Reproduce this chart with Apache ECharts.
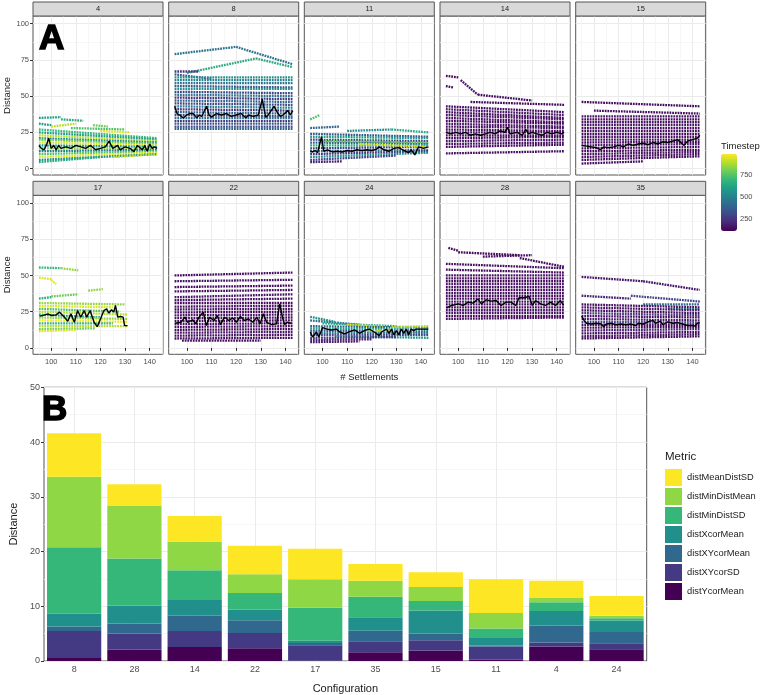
<!DOCTYPE html>
<html>
<head>
<meta charset="utf-8">
<script src="https://cdn.jsdelivr.net/npm/echarts@6/dist/echarts.min.js"></script>
<style>
  html, body { margin: 0; padding: 0; background: #fff; }
  #chart { width: 762px; height: 695px; }
</style>
</head>
<body>
<div id="chart"></div>
<script>
// ---- panel A: one facet per configuration ----
const facetNames = ['4', '8', '11', '14', '15', '17', '22', '24', '28', '35'];

// settlement tracks: [timestep, xStart, yStart, xEnd, yEnd]
const tracks4 = [
  [600, 95, 35, 104, 35.5], [650, 104, 34, 113, 33], [800, 117, 30, 123, 29],
  [600, 95, 31, 100, 30], [900, 100, 29, 110, 31], [750, 108, 28, 130, 27],
  [950, 120, 26, 132, 25], [700, 95, 27, 143, 21], [600, 95, 25, 143, 20],
  [900, 95, 23, 143, 19], [550, 95, 21, 143, 18], [800, 95, 20, 143, 17],
  [950, 95, 18, 143, 16], [600, 95, 16, 143, 15], [850, 95, 14, 143, 14],
  [500, 95, 12, 143, 13], [750, 95, 10, 143, 12], [950, 95, 8, 143, 11],
  [550, 95, 6, 143, 10], [650, 95, 4.5, 120, 8], [900, 125, 8, 143, 10]
];
const tracks8 = [
  [450, 95, 79, 120, 84], [450, 120, 84, 143, 72], [650, 100, 66, 128, 76],
  [650, 128, 76, 143, 70], [250, 95, 67, 105, 67], [350, 95, 65, 110, 62],
  [550, 95, 63, 143, 63], [500, 95, 61, 143, 61], [450, 95, 59, 143, 59],
  [350, 95, 57, 143, 56], [550, 95, 55, 143, 55], [300, 95, 53, 143, 52],
  [450, 95, 51, 143, 50], [250, 95, 49, 143, 48], [400, 95, 47, 143, 46],
  [300, 95, 45, 143, 44], [500, 95, 43, 143, 42], [250, 95, 41, 143, 40],
  [400, 95, 39, 143, 38], [300, 95, 37, 143, 36], [450, 95, 35, 143, 35],
  [250, 95, 33, 143, 33], [350, 95, 31, 143, 31], [300, 95, 29, 143, 29],
  [400, 95, 27.5, 143, 27.5]
];
const tracks11 = [
  [750, 95, 34, 99, 37], [400, 95, 28, 107, 29], [550, 110, 26, 128, 27],
  [650, 128, 27, 143, 25], [350, 95, 24, 143, 22], [600, 95, 22, 143, 21],
  [300, 95, 20, 143, 19], [800, 100, 19, 143, 18], [400, 95, 18, 143, 17],
  [650, 95, 16, 143, 16], [300, 95, 14, 143, 15], [950, 115, 17, 143, 15],
  [450, 95, 12, 143, 13], [250, 95, 10, 143, 12], [550, 95, 8, 143, 11],
  [300, 95, 6, 130, 9], [200, 95, 4.5, 108, 5]
];
const tracks14 = [
  [150, 95, 64, 100, 63], [150, 95, 57, 98, 56], [170, 101, 61, 108, 51],
  [150, 108, 51, 130, 47], [140, 105, 46, 143, 44], [150, 95, 43, 143, 39],
  [170, 95, 41, 143, 37], [140, 95, 39, 143, 35], [160, 95, 37, 143, 34],
  [150, 95, 35, 143, 32], [130, 95, 33, 143, 31], [170, 95, 31, 143, 29],
  [150, 95, 29, 143, 28], [140, 95, 27, 143, 26], [160, 95, 25, 143, 25],
  [150, 95, 23, 143, 23], [130, 95, 21, 143, 22], [170, 95, 19, 143, 20],
  [150, 95, 17, 143, 18], [140, 95, 15, 143, 16.5], [150, 95, 10.5, 143, 12]
];
const tracks15 = [
  [140, 95, 46, 143, 43], [150, 100, 40, 143, 38], [160, 95, 36, 143, 36],
  [130, 95, 34, 143, 34], [150, 95, 32, 143, 32], [170, 95, 30, 143, 30],
  [140, 95, 28, 143, 28], [150, 95, 26, 143, 26], [130, 95, 24, 143, 24],
  [160, 95, 22, 143, 22], [150, 95, 20, 143, 20], [140, 95, 18, 143, 18.5],
  [170, 95, 16, 143, 17], [150, 95, 14, 143, 15], [130, 95, 12, 143, 13],
  [160, 95, 10, 143, 11.5], [150, 95, 8, 143, 10], [140, 95, 6, 143, 8.5],
  [150, 95, 3.5, 120, 5]
];
const tracks17 = [
  [700, 95, 55.5, 104, 55], [850, 104, 55, 111, 53.5], [950, 95, 48.5, 100, 47.5],
  [950, 100, 47, 102, 44], [850, 115, 39.5, 121, 40.5], [650, 95, 34, 100, 35],
  [800, 100, 35.5, 111, 37], [850, 95, 31, 130, 30], [950, 95, 29, 125, 28],
  [750, 95, 27, 128, 25], [900, 95, 25, 131, 23], [600, 95, 23, 120, 21],
  [850, 95, 21, 131, 20], [980, 95, 19, 131, 18], [700, 95, 17, 125, 17],
  [900, 95, 15, 131, 15], [800, 95, 13, 118, 13.5], [950, 95, 11.5, 110, 12.5]
];
const tracks22 = [
  [150, 95, 50, 143, 52], [160, 95, 46, 143, 47], [140, 95, 42, 143, 43],
  [150, 95, 39, 143, 40], [170, 95, 35, 143, 37], [150, 95, 33, 143, 34],
  [140, 95, 31, 143, 31], [160, 95, 28.5, 143, 29], [150, 95, 26.5, 143, 27],
  [130, 95, 24.5, 143, 25], [170, 95, 22.5, 143, 23], [150, 95, 20.5, 143, 21],
  [140, 95, 18.5, 143, 19], [160, 95, 16.5, 143, 17], [150, 95, 14.5, 143, 15],
  [130, 95, 12.5, 143, 13], [170, 95, 10.5, 143, 11], [150, 95, 8.5, 143, 9],
  [140, 95, 6.5, 143, 7], [150, 98, 5, 130, 5]
];
const tracks24 = [
  [550, 95, 21.5, 105, 18], [450, 95, 19, 115, 16], [650, 100, 17, 130, 15],
  [950, 110, 16, 125, 14.5], [400, 95, 15, 143, 14], [900, 128, 14.5, 143, 15],
  [600, 95, 13.5, 143, 12.5], [350, 95, 12, 143, 11], [500, 95, 10.5, 143, 10],
  [300, 95, 9, 143, 9], [550, 105, 8, 143, 7], [250, 95, 7, 130, 7.5],
  [200, 95, 5.5, 120, 6], [180, 95, 4, 115, 4.5], [900, 118, 12, 128, 12]
];
const tracks28 = [
  [150, 96, 69, 100, 67], [140, 100, 66, 125, 64], [160, 110, 63, 130, 64],
  [150, 125, 62, 143, 56], [150, 95, 58, 143, 55], [140, 95, 54, 143, 52],
  [160, 95, 50, 143, 50], [150, 95, 48, 143, 48], [130, 95, 46, 143, 46],
  [170, 95, 44, 143, 44], [150, 95, 42, 143, 42], [140, 95, 40, 143, 40],
  [160, 95, 38, 143, 38], [150, 95, 36, 143, 36], [130, 95, 34, 143, 34],
  [170, 95, 32, 143, 32], [150, 95, 30, 143, 30], [140, 95, 28, 143, 28],
  [160, 95, 26, 143, 26], [150, 95, 24, 143, 24], [130, 95, 22, 143, 22],
  [150, 95, 20, 143, 21]
];
const tracks35 = [
  [170, 95, 49, 120, 46], [170, 120, 46, 143, 40], [200, 95, 36, 115, 34],
  [300, 115, 36, 143, 32], [400, 120, 30, 143, 30], [550, 130, 27, 143, 27],
  [150, 95, 30, 143, 28], [160, 95, 28, 143, 26], [140, 95, 26, 143, 24],
  [250, 95, 24, 143, 22.5], [150, 95, 22, 143, 21], [170, 95, 20, 143, 19],
  [300, 95, 18, 143, 17.5], [150, 95, 16, 143, 16], [140, 95, 14, 143, 14.5],
  [200, 95, 12, 143, 13], [150, 95, 10, 143, 11], [160, 95, 8, 143, 9.5],
  [140, 95, 6.5, 143, 8]
];

// mean distance per settlement count (black line)
const mean4 = [[95,16],[96,14],[97,13],[98,16],[99,21],[100,14],[101,16],[102,13],[103,16],[104,14],[106,15],[108,14],[110,16],[112,15],[114,14],[116,16],[118,13],[120,14],[122,15],[123.5,19],[125,14],[127,16],[128,13],[130,15],[132,14],[133.6,11.7],[135,16],[137,13],[138,16],[139,12],[140,17],[141,14],[142,15],[143,14]];
const mean8 = [[95,43],[96,38],[97,37],[98.5,35],[100,37],[101,38],[102.5,38],[104,35],[105,37],[106,36],[108,43],[109,37],[110,35.5],[112,38],[114,37],[116,38],[118,36],[120,37],[122,38],[124,35],[125,37],[127,36],[129,37],[130.6,48],[132,35.5],[133,37],[135.4,43],[137,38],[138,36],[139,37],[141,40],[142,37],[143,40]];
const mean11 = [[95,12],[96,11.5],[97,12.5],[98,11],[99.6,22],[100.5,12],[102,13],[104,11.5],[106,12],[108,11.5],[110,12.5],[112,12],[114,13],[116,12.5],[118,13],[120,12.5],[122,13.5],[123,15],[125,13],[127,12],[129,14],[131,14.5],[133,12.5],[135,11],[136,13],[137.5,9.5],[139,15],[141,14],[143,15]];
const mean14 = [[95,25],[97,24],[99,25],[101,24],[103,25],[105,23],[107,24],[109,23],[111,24],[113,25],[115,24],[117,26],[119,25],[120,28.5],[121,24],[124,25],[126,23],[127.5,27],[128.5,24],[130,25],[132,24],[134,23],[136,25],[138,24],[140,25],[142,24],[143,25]];
const mean15 = [[95,16],[97,15.5],[99,15],[101,14.5],[102.6,13],[104,15],[106,14.5],[108,15],[110,16],[112,15],[114,17],[116,16],[118,17],[120,17.5],[122,16.5],[124,18],[126,17],[128,18.5],[130,18],[132,19],[134,20],[136.6,16],[138,19],[140,20],[142,21],[143,23]];
const mean17 = [[95.3,21.9],[96.7,22.4],[97.3,21.2],[98.7,23.5],[100,22.4],[102,22.8],[103.3,24.7],[105.4,21.2],[106.7,18.4],[108,23.5],[109.4,17.7],[110.7,25.8],[112,21.2],[113.4,25.8],[114.4,21.2],[115.8,25.8],[117.4,17.7],[118.7,14.7],[120,20],[121.4,25.8],[122.5,27],[123.4,24],[124.5,26.3],[125.4,24.7],[126.1,29.3],[127,21.2],[128.1,21.7],[129.2,21.2],[129.8,15.4],[131,15.4]];
const mean22 = [[95.2,17],[97.6,17.7],[99.2,21.2],[100.3,17.7],[102.3,19.4],[103.6,16.6],[104.9,21.2],[106.6,24.7],[107.9,15.4],[109.2,21.2],[111,18.9],[112.3,22.4],[113.6,16.1],[115.3,21.2],[117,18.9],[118.6,20.7],[120.1,17.7],[121.7,21.7],[123.3,18.9],[125,20],[126.8,17.7],[128.4,21.2],[129.7,16.6],[131,23.5],[132.4,17.7],[134.4,16.1],[136.4,16.6],[137.7,30.4],[138.8,21.2],[139.7,16.1],[140.7,17.7],[142.4,17]];
const mean24 = [[95,11],[96,7.5],[97.5,11],[98.5,7.5],[100,14],[101.8,13],[103.6,12.4],[105.6,13],[107,11],[109,9.7],[111,11.3],[113,12.4],[115,10.1],[117,12],[119,13],[121,11],[123,8.5],[124,11],[126,13],[127,10],[128,13],[129,9],[130,12],[131,9],[132,13],[133,10],[134,13],[135,9],[136,13],[137,12],[138,13],[140,13],[142,13],[143,13]];
const mean28 = [[95.3,27.7],[97.3,29.3],[100,30.4],[102,29.3],[104,31.6],[106,30.9],[108,33.8],[109.4,30.4],[111.4,33.2],[113.4,32.3],[115.4,32.7],[117.4,29.3],[119.4,31.6],[121.4,31.6],[123.4,29.3],[124.7,34.6],[126.7,34.6],[128.8,35.5],[130.1,29.3],[131.4,32.7],[133.4,30.4],[135.5,29.3],[137.5,31.6],[139.5,29.3],[141.5,32.7],[142.8,29.3]];
const mean35 = [[95,22],[96,19],[97,17],[99,16.5],[101,17],[103,16.5],[104,14.5],[105,16.5],[107,17],[109,16],[111,16.5],[113,16],[115,16.5],[117,15.5],[118,17],[120,16.5],[122,18],[124,19],[125,17],[127,18.5],[128,16],[130,18],[132,17],[134,17.5],[136,16.5],[138,15.5],[140,15.5],[141,15],[142,17],[143,17.5]];

const xMajor = [100, 110, 120, 130, 140];
const xMinor = [95, 105, 115, 125, 135, 145];
const yMajor = [0, 25, 50, 75, 100];
const yMinor = [12.5, 37.5, 62.5, 87.5];
const timestepTicks = [250, 500, 750];

// ---- panel B: stacked metric distances ----
const configs = ['8', '28', '14', '22', '17', '35', '15', '11', '4', '24'];
const metrics = ['distYcorMean', 'distXYcorSD', 'distXYcorMean', 'distXcorMean', 'distMinDistSD', 'distMinDistMean', 'distMeanDistSD'];
const distYcorMean    = [0.54, 2.04, 2.58, 2.34, 0.05, 1.62, 1.92, 0.24, 2.64, 2.16];
const distXYcorSD     = [4.92, 3.00, 2.88, 2.76, 2.83, 1.98, 1.86, 2.40, 0.72, 1.08];
const distXYcorMean   = [0.84, 1.80, 2.82, 2.34, 0.42, 1.92, 1.26, 0.18, 3.12, 2.04];
const distXcorMean    = [2.34, 3.30, 2.88, 1.98, 0.42, 2.46, 4.20, 1.38, 2.64, 2.10];
const distMinDistSD   = [12.13, 8.59, 5.41, 3.00, 6.00, 3.78, 1.74, 1.74, 1.62, 0.42];
const distMinDistMean = [12.90, 9.67, 5.28, 3.43, 5.22, 2.89, 2.52, 2.82, 0.78, 0.48];
const distMeanDistSD  = [7.93, 3.90, 4.62, 5.22, 5.56, 3.05, 2.70, 6.19, 3.13, 3.60];

const viridis = ['#440154', '#482878', '#3E4A89', '#31688E', '#26828E', '#1F9E89', '#35B779', '#6DCD59', '#B4DE2C', '#FDE725'];
const metricColors = ['#440154', '#443A83', '#31688E', '#21908C', '#35B779', '#8FD744', '#FDE725'];

const FONT = 'Liberation Sans, Arial, sans-serif';
const allTracks = [tracks4, tracks8, tracks11, tracks14, tracks15, tracks17, tracks22, tracks24, tracks28, tracks35];
const allMeans = [mean4, mean8, mean11, mean14, mean15, mean17, mean22, mean24, mean28, mean35];
const metricValues = [distYcorMean, distXYcorSD, distXYcorMean, distXcorMean, distMinDistSD, distMinDistMean, distMeanDistSD];

const colLeft = [33, 168.7, 304.3, 440, 575.7];
const rowTop = [16, 195.3];
const panelW = 130, panelH = 159, stripH = 14;

const grids = [], xAxes = [], yAxes = [], series = [], graphics = [], trackSeries = [];

function renderTrack(params, api) {
  const p0 = api.coord([api.value(1), api.value(2)]);
  const p1 = api.coord([api.value(3), api.value(4)]);
  return {
    type: 'line',
    shape: { x1: p0[0], y1: p0[1], x2: p1[0], y2: p1[1] },
    style: { stroke: api.visual('color'), lineWidth: 2.3, lineDash: [1.8, 0.9] }
  };
}

function gridOnlyAxis(i, min, max, values, color, width) {
  return {
    gridIndex: i, type: 'value', min: min, max: max,
    axisLine: { show: false }, axisLabel: { show: false },
    axisTick: { show: false, customValues: values },
    splitLine: { show: true, lineStyle: { color: color, width: width } }
  };
}

facetNames.forEach(function (name, i) {
  const col = i % 5, row = Math.floor(i / 5);
  const left = colLeft[col], top = rowTop[row];
  const bottomRow = row === 1, firstCol = col === 0;
  grids.push({ left: left, top: top, width: panelW, height: panelH, show: true,
    borderColor: '#555', borderWidth: 1, backgroundColor: '#fff' });

  xAxes.push({
    gridIndex: i, type: 'value', min: 92.6, max: 145.4,
    axisLine: { show: false },
    axisTick: { show: bottomRow, customValues: xMajor, length: 3, lineStyle: { color: '#333' } },
    axisLabel: { show: bottomRow, customValues: xMajor, color: '#4D4D4D', fontSize: 7.5, fontFamily: FONT, margin: 4 },
    splitLine: { show: true, lineStyle: { color: '#EBEBEB', width: 1 } },
    name: i === 7 ? '# Settlements' : '', nameLocation: 'middle', nameGap: 18,
    nameTextStyle: { color: '#1A1A1A', fontSize: 9.5, fontFamily: FONT }
  });
  xAxes.push(gridOnlyAxis(i, 92.6, 145.4, xMinor, '#F4F4F4', 0.8));

  yAxes.push({
    gridIndex: i, type: 'value', min: -4.4, max: 105.3,
    axisLine: { show: false },
    axisTick: { show: firstCol, customValues: yMajor, length: 3, lineStyle: { color: '#333' } },
    axisLabel: { show: firstCol, customValues: yMajor, color: '#4D4D4D', fontSize: 7.5, fontFamily: FONT, margin: 4 },
    splitLine: { show: true, lineStyle: { color: '#EBEBEB', width: 1 } },
    name: firstCol ? 'Distance' : '', nameLocation: 'middle', nameGap: 19,
    nameTextStyle: { color: '#1A1A1A', fontSize: 9.5, fontFamily: FONT }
  });
  yAxes.push(gridOnlyAxis(i, -4.4, 105.3, yMinor, '#F4F4F4', 0.8));

  trackSeries.push(series.length);
  series.push({
    type: 'custom', xAxisIndex: 2 * i, yAxisIndex: 2 * i,
    dimensions: ['timestep', 'x0', 'y0', 'x1', 'y1'],
    encode: { x: [1, 3], y: [2, 4] },
    data: allTracks[i], renderItem: renderTrack, silent: true, z: 2
  });
  series.push({
    type: 'line', xAxisIndex: 2 * i, yAxisIndex: 2 * i, data: allMeans[i],
    symbol: 'none', silent: true, z: 3,
    lineStyle: { color: '#000', width: 1.4 }
  });

  graphics.push({
    type: 'rect', shape: { x: left, y: top - stripH, width: panelW, height: stripH },
    style: { fill: '#D9D9D9', stroke: '#555', lineWidth: 1 }, z: 10
  });
  graphics.push({
    type: 'text', x: left + panelW / 2, y: top - stripH / 2, z: 11,
    style: { text: name, fill: '#1A1A1A', font: '7.5px ' + FONT, align: 'center', verticalAlign: 'middle' }
  });
});

// colour bar axis (grid 10)
grids.push({ left: 721, top: 154, width: 16, height: 77 });
xAxes.push({ gridIndex: 10, type: 'value', show: false });
yAxes.push({
  gridIndex: 10, type: 'value', min: 117, max: 992, position: 'right',
  axisLine: { show: false },
  axisTick: { show: true, inside: true, length: 3, customValues: timestepTicks, lineStyle: { color: '#fff' } },
  axisLabel: { customValues: timestepTicks, color: '#4D4D4D', fontSize: 7.5, fontFamily: FONT, margin: 3 },
  splitLine: { show: false }
});

// panel B (grid 11)
grids.push({ left: 34, top: 387.3, width: 612.7, height: 277.7, show: true, borderColor: '#555', borderWidth: 1 });
xAxes.push({
  gridIndex: 11, type: 'category', data: configs,
  axisLine: { show: false },
  axisTick: { alignWithLabel: true, length: 3, lineStyle: { color: '#333' } },
  axisLabel: { color: '#4D4D4D', fontSize: 9, fontFamily: FONT, margin: 4 },
  splitLine: { show: false },
  name: 'Configuration', nameLocation: 'middle', nameGap: 22,
  nameTextStyle: { color: '#1A1A1A', fontSize: 11, fontFamily: FONT }
});
xAxes.push(gridOnlyAxis(11, 0.5, 10.5, [1, 2, 3, 4, 5, 6, 7, 8, 9, 10], '#EBEBEB', 1));
yAxes.push({
  gridIndex: 11, type: 'value', min: 0, max: 50, interval: 10,
  axisLine: { show: false },
  axisTick: { length: 3, lineStyle: { color: '#333' } },
  axisLabel: { color: '#4D4D4D', fontSize: 9, fontFamily: FONT, margin: 4 },
  splitLine: { lineStyle: { color: '#EBEBEB', width: 1 } },
  minorTick: { show: false, splitNumber: 2 },
  minorSplitLine: { show: true, lineStyle: { color: '#F4F4F4', width: 0.8 } },
  name: 'Distance', nameLocation: 'middle', nameGap: 25,
  nameTextStyle: { color: '#1A1A1A', fontSize: 11, fontFamily: FONT }
});

metrics.forEach(function (m, k) {
  series.push({
    type: 'bar', name: m, stack: 'total', xAxisIndex: 21, yAxisIndex: 21,
    data: metricValues[k], barCategoryGap: '10%',
    itemStyle: { color: metricColors[k] }, silent: true
  });
});

graphics.push(
  { type: 'text', x: 39, y: 22, z: 20, style: { text: 'A', fill: '#000', stroke: '#000', lineWidth: 1.5, font: 'bold 35px ' + FONT } },
  { type: 'text', x: 42, y: 393, z: 20, style: { text: 'B', fill: '#000', stroke: '#000', lineWidth: 1.5, font: 'bold 35px ' + FONT } },
  { type: 'text', x: 721, y: 146, style: { text: 'Timestep', fill: '#1A1A1A', font: '9.5px ' + FONT, verticalAlign: 'middle' } },
  { type: 'text', x: 665, y: 457, style: { text: 'Metric', fill: '#1A1A1A', font: '11.5px ' + FONT, verticalAlign: 'middle' } }
);

const chart = echarts.init(document.getElementById('chart'), null, { renderer: 'canvas' });
chart.setOption({
  animation: false,
  backgroundColor: '#fff',
  grid: grids,
  xAxis: xAxes,
  yAxis: yAxes,
  visualMap: {
    type: 'continuous', min: 117, max: 992, dimension: 0,
    seriesIndex: trackSeries, calculable: false, realtime: false,
    left: 721, top: 154, itemWidth: 16, itemHeight: 77, padding: 0,
    text: null, inRange: { color: viridis }
  },
  legend: {
    data: metrics.slice().reverse(), orient: 'vertical', left: 665, top: 469,
    padding: 0, itemWidth: 17, itemHeight: 17, itemGap: 2, icon: 'rect', selectedMode: false,
    textStyle: { color: '#1A1A1A', fontSize: 9.3, fontFamily: FONT }
  },
  graphic: graphics,
  series: series
});
</script>
</body>
</html>
